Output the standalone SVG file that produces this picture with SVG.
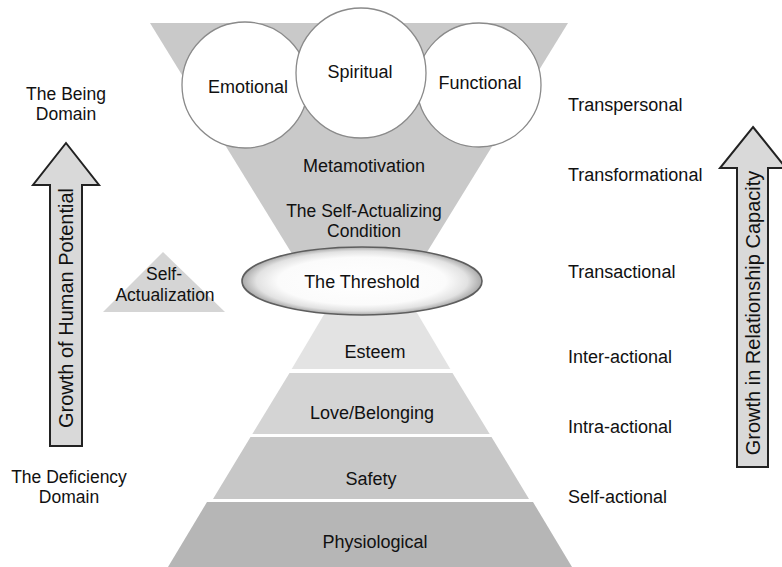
<svg xmlns="http://www.w3.org/2000/svg" width="782" height="567" viewBox="0 0 782 567">
<style>
text{font-family:"Liberation Sans",Arial,sans-serif;font-size:18px;fill:#111;dominant-baseline:central}
.c{text-anchor:middle}
.s{text-anchor:start}
.t2{font-size:17.5px}
.circ{fill:#fff;stroke:#8a8a8a;stroke-width:1.3}
.arrow{fill:#d9d9d9;stroke:#222;stroke-width:2}
.big{font-size:20px}
</style>
<defs>
<radialGradient id="th" cx="50%" cy="50%" r="50%">
<stop offset="0" stop-color="#ffffff"/>
<stop offset="0.7" stop-color="#fbfbfb"/>
<stop offset="0.88" stop-color="#e2e2e2"/>
<stop offset="1" stop-color="#a9a9a9"/>
</radialGradient>
</defs>
<g id="funnel">
<polygon points="150,23 568,23 416,270 302,270" fill="#c9c9c9"/>
<text class="c" x="364" y="166">Metamotivation</text>
<text class="c t2" x="364" y="211">The Self-Actualizing</text>
<text class="c t2" x="364" y="231">Condition</text>
</g>
<g id="emotional">
<circle class="circ" cx="245" cy="85" r="63"/>
<text class="c" x="248" y="87">Emotional</text>
</g>
<g id="functional">
<circle class="circ" cx="479" cy="85" r="62"/>
<text class="c" x="480" y="83">Functional</text>
</g>
<g id="spiritual">
<circle class="circ" cx="361" cy="73" r="65"/>
<text class="c" x="360" y="72">Spiritual</text>
</g>
<g id="esteem">
<polygon points="332.6,300 409.4,300 450.3,369 291.7,369" fill="#e3e3e3"/>
<text class="c" x="375" y="352">Esteem</text>
</g>
<g id="love">
<polygon points="289.5,373 452.5,373 489.7,434 252.3,434" fill="#d4d4d4"/>
<text class="c" x="372" y="413">Love/Belonging</text>
</g>
<g id="safety">
<polygon points="250.5,437 491.5,437 529,499 213,499" fill="#c7c7c7"/>
<text class="c" x="371" y="479">Safety</text>
</g>
<g id="physiological">
<polygon points="207,502 533,502 575,572 165,572" fill="#b6b6b6"/>
<text class="c" x="375" y="542">Physiological</text>
</g>
<g id="threshold">
<ellipse cx="362" cy="281" rx="120" ry="34" fill="url(#th)" stroke="#5e5e5e" stroke-width="1.6"/>
<text class="c" x="362" y="282">The Threshold</text>
</g>
<g id="self-actualization">
<polygon points="163,252 225,312 103,312" fill="#d5d5d5"/>
<text class="c t2" x="164" y="274">Self-</text>
<text class="c t2" x="165" y="295">Actualization</text>
</g>
<g id="being-domain">
<text class="c t2" x="66" y="94">The Being</text>
<text class="c t2" x="66" y="114">Domain</text>
</g>
<g id="deficiency-domain">
<text class="c t2" x="69" y="477">The Deficiency</text>
<text class="c t2" x="69" y="497">Domain</text>
</g>
<g id="left-arrow">
<polygon class="arrow" points="66,143 99,185 82,185 82,446 50,446 50,185 33,185"/>
<text class="c big" transform="translate(66,308) rotate(-90)">Growth of Human Potential</text>
</g>
<g id="right-arrow">
<polygon class="arrow" points="753,127 786,168 768,168 768,467 737,467 737,168 720,168"/>
<text class="c big" transform="translate(752.5,313) rotate(-90)">Growth in Relationship Capacity</text>
</g>
<g id="levels">
<text class="s" x="568" y="105">Transpersonal</text>
<text class="s" x="568" y="175">Transformational</text>
<text class="s" x="568" y="272">Transactional</text>
<text class="s" x="568" y="357">Inter-actional</text>
<text class="s" x="568" y="427">Intra-actional</text>
<text class="s" x="568" y="497">Self-actional</text>
</g>
<g id="connectors"></g>
</svg>
